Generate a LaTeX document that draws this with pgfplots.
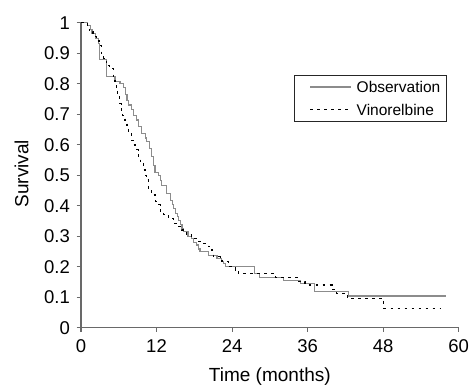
\documentclass[border=0pt]{standalone}
\usepackage{fontspec}
\setmainfont{Liberation Sans}
\usepackage{pgfplots}
\pgfplotsset{compat=1.18}
\definecolor{obsgray}{RGB}{140,140,140}
\definecolor{axgray}{RGB}{105,105,105}
\begin{document}
\begin{tikzpicture}
\useasboundingbox (-81pt,-57.3pt) rectangle (388pt,327.7pt);
\begin{axis}[
  scale only axis,
  width=377.7pt, height=305pt,
  xmin=0, xmax=60, ymin=0, ymax=1,
  axis lines=left,
  axis line style={-, draw=axgray, line width=1.3pt},
  tick style={draw=axgray, line width=1.1pt},
  tick align=outside,
  major tick length=4.3pt,
  xtick={0,12,24,36,48,60},
  ytick={0,0.1,0.2,0.3,0.4,0.5,0.6,0.7,0.8,0.9,1},
  minor tick num=0,
  /pgf/number format/assume math mode=true,
  tick label style={font=\fontsize{18.5}{22}\selectfont, inner sep=0pt},
  yticklabel style={anchor=east},
  xticklabel style={anchor=north},
  xticklabel shift=7.3pt,
  yticklabel shift=6.7pt,
  xlabel={Time (months)},
  ylabel={Survival},
  label style={font=\fontsize{19}{22}\selectfont},
  xlabel style={at={(axis description cs:0.5,-0.178)}, anchor=base},
  ylabel style={at={(axis description cs:-0.1395,0.505)}, anchor=base, rotate=0},
  clip=false,
  legend style={
    at={(axis description cs:0.565,0.8285)}, anchor=north west,
    draw=black!85, line width=0.8pt,
    font=\fontsize{15.5}{18}\selectfont,
    inner xsep=6pt, inner ysep=6pt,
    row sep=11.6pt, column sep=5pt,
    cells={anchor=west},
    nodes={inner sep=0pt, text height=11.1pt, text depth=0pt},
  },
  legend image code/.code={
    \path (0pt,0pt);
    \draw[#1] (8.7pt,0pt) -- (49.7pt,0pt);
  },
]
\addplot[const plot, draw=obsgray, line width=1.1pt] coordinates {
(0,1.0) (1.0,0.99) (1.5,0.978) (1.75,0.965) (2.3,0.949) (2.85,0.933)
(3.0,0.88) (4.0,0.823) (5.4,0.807) (6.2,0.801) (6.7,0.788)
(7.0,0.765) (7.3,0.746) (7.55,0.730) (8.05,0.716) (8.32,0.697)
(8.85,0.681) (9.1,0.659) (9.65,0.637) (10.2,0.622) (10.45,0.61)
(10.9,0.588) (11.2,0.561) (11.5,0.533) (11.76,0.509) (12.3,0.498)
(12.56,0.484) (12.8,0.466) (13.6,0.44) (14.15,0.417) (14.5,0.405)
(14.75,0.39) (15.0,0.375) (15.3,0.364) (15.55,0.350) (15.8,0.337)
(16.05,0.326) (16.3,0.315) (17.0,0.30) (17.6,0.293) (17.85,0.280)
(18.4,0.271) (18.65,0.258) (18.9,0.249) (20.3,0.238) (21.6,0.228)
(22.3,0.218) (22.6,0.211) (22.9,0.202) (27.5,0.178) (28.3,0.166)
(32.2,0.155) (34.8,0.146) (37.1,0.118) (42.5,0.104) (58.0,0.104)
};
\addlegendentry{Observation}
\addplot[const plot, draw=black, line width=1.2pt, dash pattern=on 2.7pt off 4.3pt] coordinates {
(0,1.0) (1.0,0.99) (1.3,0.97) (1.9,0.955) (2.5,0.94) (2.9,0.925)
(3.2,0.90) (3.6,0.883) (4.0,0.86) (4.5,0.85) (5.1,0.823) (5.4,0.807)
(5.65,0.78) (5.85,0.757) (6.1,0.735) (6.4,0.714) (6.6,0.697)
(7.0,0.675) (7.3,0.659) (7.6,0.637) (8.05,0.615) (8.3,0.599)
(8.85,0.583) (9.1,0.561) (9.4,0.539) (9.9,0.517) (10.2,0.50)
(10.45,0.484) (10.7,0.457) (11.2,0.435) (11.8,0.415) (12.3,0.403)
(12.6,0.382) (13.1,0.37) (13.9,0.359) (14.7,0.342) (15.5,0.331)
(16.0,0.32) (16.8,0.304) (17.6,0.293) (18.4,0.282) (19.2,0.277)
(20.2,0.266) (20.8,0.249) (21.0,0.233) (22.1,0.224) (22.4,0.216)
(23.4,0.20) (24.5,0.189) (25.0,0.178) (30.9,0.165) (34.6,0.151)
(35.6,0.14) (39.9,0.126) (40.6,0.113) (42.3,0.096) (48.1,0.064)
(57.1,0.064)
};
\addlegendentry{Vinorelbine}
\end{axis}
\end{tikzpicture}
\end{document}
